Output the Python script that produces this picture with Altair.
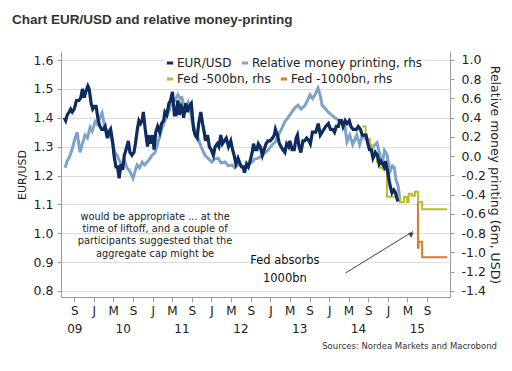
import altair as alt
import pandas as pd

# ---------------- data ----------------
S_EUR = "EUR/USD"
S_RMP = "Relative money printing, rhs"
S_500 = "Fed -500bn, rhs"
S_1000 = "Fed -1000bn, rhs"
main_names = [S_EUR, S_RMP]
main_colors = ["#0d2b5e", "#7fa3c8"]
fed_names = [S_500, S_1000]
fed_colors = ["#b9bc2d", "#d77a29"]

eur_usd = [
    ("2009-07-01", 1.40), ("2009-07-10", 1.39), ("2009-07-20", 1.41), ("2009-08-01", 1.42),
    ("2009-08-10", 1.43), ("2009-08-20", 1.42), ("2009-09-01", 1.43), ("2009-09-15", 1.46),
    ("2009-10-01", 1.46), ("2009-10-12", 1.47), ("2009-10-22", 1.50), ("2009-11-02", 1.47),
    ("2009-11-12", 1.49), ("2009-11-25", 1.51), ("2009-12-03", 1.50), ("2009-12-15", 1.45),
    ("2009-12-25", 1.43), ("2010-01-05", 1.44), ("2010-01-15", 1.44), ("2010-01-28", 1.39),
    ("2010-02-08", 1.37), ("2010-02-18", 1.36), ("2010-03-01", 1.36), ("2010-03-12", 1.37),
    ("2010-03-25", 1.33), ("2010-04-05", 1.35), ("2010-04-15", 1.36), ("2010-04-27", 1.32),
    ("2010-05-06", 1.27), ("2010-05-18", 1.23), ("2010-05-28", 1.23), ("2010-06-07", 1.19),
    ("2010-06-18", 1.24), ("2010-06-29", 1.22), ("2010-07-09", 1.27), ("2010-07-20", 1.29),
    ("2010-08-03", 1.32), ("2010-08-13", 1.28), ("2010-08-25", 1.27), ("2010-09-07", 1.28),
    ("2010-09-16", 1.31), ("2010-09-28", 1.36), ("2010-10-08", 1.39), ("2010-10-18", 1.38),
    ("2010-10-28", 1.39), ("2010-11-04", 1.42), ("2010-11-16", 1.36), ("2010-11-30", 1.30),
    ("2010-12-08", 1.34), ("2010-12-20", 1.31), ("2010-12-31", 1.34), ("2011-01-10", 1.29),
    ("2011-01-20", 1.35), ("2011-02-01", 1.37), ("2011-02-14", 1.35), ("2011-02-25", 1.38),
    ("2011-03-10", 1.39), ("2011-03-18", 1.42), ("2011-03-30", 1.41), ("2011-04-12", 1.45),
    ("2011-04-22", 1.46), ("2011-05-04", 1.49), ("2011-05-16", 1.41), ("2011-05-26", 1.41),
    ("2011-06-07", 1.46), ("2011-06-16", 1.41), ("2011-06-28", 1.44), ("2011-07-06", 1.43),
    ("2011-07-12", 1.40), ("2011-07-26", 1.45), ("2011-08-05", 1.42), ("2011-08-16", 1.44),
    ("2011-08-29", 1.45), ("2011-09-12", 1.36), ("2011-09-22", 1.34), ("2011-10-04", 1.33),
    ("2011-10-14", 1.38), ("2011-10-27", 1.42), ("2011-11-07", 1.38), ("2011-11-17", 1.35),
    ("2011-11-25", 1.32), ("2011-12-08", 1.34), ("2011-12-19", 1.30), ("2011-12-30", 1.29),
    ("2012-01-13", 1.27), ("2012-01-24", 1.30), ("2012-02-06", 1.31), ("2012-02-16", 1.30),
    ("2012-02-28", 1.34), ("2012-03-09", 1.31), ("2012-03-21", 1.32), ("2012-04-02", 1.33),
    ("2012-04-16", 1.30), ("2012-04-30", 1.32), ("2012-05-11", 1.29), ("2012-05-21", 1.27),
    ("2012-06-01", 1.24), ("2012-06-14", 1.26), ("2012-06-27", 1.24), ("2012-07-06", 1.23),
    ("2012-07-16", 1.23), ("2012-07-24", 1.21), ("2012-08-06", 1.24), ("2012-08-17", 1.23),
    ("2012-08-28", 1.25), ("2012-09-10", 1.28), ("2012-09-18", 1.31), ("2012-09-28", 1.29),
    ("2012-10-10", 1.29), ("2012-10-18", 1.31), ("2012-10-30", 1.30), ("2012-11-12", 1.27),
    ("2012-11-23", 1.29), ("2012-12-05", 1.31), ("2012-12-17", 1.32), ("2012-12-31", 1.32),
    ("2013-01-14", 1.33), ("2013-01-25", 1.34), ("2013-02-01", 1.36), ("2013-02-14", 1.34),
    ("2013-02-26", 1.31), ("2013-03-08", 1.30), ("2013-03-19", 1.29), ("2013-04-01", 1.28),
    ("2013-04-12", 1.31), ("2013-04-24", 1.30), ("2013-05-02", 1.32), ("2013-05-16", 1.29),
    ("2013-05-29", 1.29), ("2013-06-10", 1.33), ("2013-06-18", 1.34), ("2013-06-28", 1.30),
    ("2013-07-09", 1.28), ("2013-07-22", 1.32), ("2013-08-01", 1.32), ("2013-08-14", 1.33),
    ("2013-08-29", 1.32), ("2013-09-06", 1.31), ("2013-09-19", 1.35), ("2013-09-30", 1.35),
    ("2013-10-10", 1.35), ("2013-10-25", 1.38), ("2013-11-07", 1.34), ("2013-11-18", 1.35),
    ("2013-11-29", 1.36), ("2013-12-10", 1.37), ("2013-12-27", 1.38), ("2014-01-09", 1.36),
    ("2014-01-22", 1.36), ("2014-02-03", 1.35), ("2014-02-14", 1.37), ("2014-02-27", 1.37),
    ("2014-03-07", 1.39), ("2014-03-18", 1.39), ("2014-03-28", 1.37), ("2014-04-10", 1.39),
    ("2014-04-22", 1.38), ("2014-05-06", 1.39), ("2014-05-16", 1.37), ("2014-05-29", 1.36),
    ("2014-06-06", 1.36), ("2014-06-19", 1.36), ("2014-06-30", 1.37), ("2014-07-14", 1.36),
    ("2014-07-25", 1.34), ("2014-08-06", 1.34), ("2014-08-18", 1.34), ("2014-08-29", 1.31),
    ("2014-09-08", 1.29), ("2014-09-19", 1.29), ("2014-09-30", 1.26), ("2014-10-15", 1.28),
    ("2014-10-28", 1.27), ("2014-11-07", 1.24), ("2014-11-18", 1.25), ("2014-11-28", 1.24),
    ("2014-12-08", 1.23), ("2014-12-16", 1.25), ("2014-12-31", 1.21), ("2015-01-09", 1.18),
    ("2015-01-16", 1.16), ("2015-01-26", 1.14), ("2015-02-06", 1.15), ("2015-02-17", 1.14),
    ("2015-02-26", 1.12), ("2015-03-04", 1.11),
]

money_printing = [
    ("2009-07-06", -0.12), ("2009-07-20", -0.05), ("2009-08-07", 0.01), ("2009-08-20", 0.08),
    ("2009-09-07", 0.19), ("2009-09-19", 0.25), ("2009-10-07", 0.04), ("2009-10-20", 0.12),
    ("2009-11-07", 0.22), ("2009-11-22", 0.19), ("2009-12-09", 0.30), ("2009-12-22", 0.26),
    ("2010-01-09", 0.36), ("2010-01-25", 0.33), ("2010-02-09", 0.41), ("2010-02-21", 0.45),
    ("2010-03-10", 0.30), ("2010-03-25", 0.27), ("2010-04-10", 0.22), ("2010-04-25", 0.15),
    ("2010-05-12", 0.04), ("2010-05-28", 0.00), ("2010-06-12", -0.06), ("2010-06-28", -0.08),
    ("2010-07-12", -0.05), ("2010-07-25", -0.12), ("2010-08-10", -0.15), ("2010-09-01", -0.23),
    ("2010-09-15", -0.15), ("2010-09-26", -0.09), ("2010-10-12", -0.12), ("2010-10-28", -0.06),
    ("2010-11-12", -0.09), ("2010-11-28", -0.06), ("2010-12-12", -0.03), ("2010-12-28", 0.01),
    ("2011-01-16", 0.04), ("2011-02-04", 0.15), ("2011-02-28", 0.29), ("2011-03-15", 0.36),
    ("2011-04-01", 0.43), ("2011-04-15", 0.48), ("2011-05-01", 0.60), ("2011-05-20", 0.58),
    ("2011-06-07", 0.64), ("2011-06-20", 0.60), ("2011-07-01", 0.61), ("2011-07-19", 0.50),
    ("2011-08-09", 0.56), ("2011-08-25", 0.45), ("2011-09-03", 0.36), ("2011-09-20", 0.28),
    ("2011-10-10", 0.19), ("2011-10-28", 0.10), ("2011-11-22", 0.01), ("2011-12-10", -0.02),
    ("2012-01-04", -0.06), ("2012-01-20", -0.03), ("2012-02-12", -0.02), ("2012-03-01", -0.07),
    ("2012-03-25", -0.06), ("2012-04-15", -0.10), ("2012-05-07", -0.09), ("2012-05-25", -0.12),
    ("2012-06-13", -0.09), ("2012-07-01", -0.10), ("2012-07-28", -0.12), ("2012-08-15", -0.08),
    ("2012-09-10", -0.06), ("2012-09-25", -0.03), ("2012-10-16", -0.02), ("2012-11-05", 0.00),
    ("2012-12-01", 0.04), ("2012-12-20", 0.07), ("2013-01-13", 0.12), ("2013-02-01", 0.15),
    ("2013-02-19", 0.22), ("2013-03-10", 0.28), ("2013-04-01", 0.36), ("2013-04-20", 0.40),
    ("2013-05-15", 0.46), ("2013-06-01", 0.50), ("2013-06-21", 0.53), ("2013-07-10", 0.49),
    ("2013-08-04", 0.53), ("2013-08-20", 0.58), ("2013-09-04", 0.64), ("2013-09-20", 0.60),
    ("2013-10-06", 0.64), ("2013-10-24", 0.71), ("2013-11-08", 0.62), ("2013-11-18", 0.53),
    ("2013-12-05", 0.50), ("2013-12-25", 0.46), ("2014-01-15", 0.43), ("2014-02-06", 0.40),
    ("2014-02-25", 0.38), ("2014-03-21", 0.36), ("2014-04-10", 0.30), ("2014-04-21", 0.15),
    ("2014-05-09", 0.22), ("2014-05-27", 0.12), ("2014-06-21", 0.22), ("2014-07-09", 0.12),
    ("2014-07-27", 0.22), ("2014-09-01", 0.15), ("2014-09-25", 0.09), ("2014-10-25", 0.14),
    ("2014-11-25", -0.09), ("2014-12-10", 0.06), ("2014-12-25", 0.02), ("2015-01-13", -0.16),
    ("2015-01-28", -0.10), ("2015-02-10", -0.12), ("2015-02-20", -0.25), ("2015-03-04", -0.30),
    ("2015-03-16", -0.45),
]

fed_500 = [
    ("2014-07-26", 0.31), ("2014-08-15", 0.18), ("2014-09-10", 0.10), ("2014-09-26", 0.06),
    ("2014-10-12", 0.00), ("2014-10-24", -0.06), ("2014-11-10", -0.12), ("2014-12-01", -0.14),
    ("2014-12-26", -0.42), ("2015-03-15", -0.475), ("2015-04-10", -0.42), ("2015-04-28", -0.475),
    ("2015-05-10", -0.39), ("2015-05-29", -0.41), ("2015-06-17", -0.37), ("2015-07-06", -0.475),
    ("2015-08-01", -0.55), ("2016-01-03", -0.55),
]

fed_1000 = [
    ("2015-07-05", -0.475), ("2015-07-06", -0.95), ("2015-07-10", -0.89),
    ("2015-08-01", -1.05), ("2016-01-03", -1.05),
]

left_ticks = [0.8, 0.9, 1.0, 1.1, 1.2, 1.3, 1.4, 1.5, 1.6]
right_ticks = [-1.4, -1.2, -1.0, -0.8, -0.6, -0.4, -0.2, 0.0, 0.2, 0.4, 0.6, 0.8, 1.0]
year_labels = ["09", "10", "11", "12", "13", "14", "15"]
year_label_dates = ["2009-09-05", "2010-07-02", "2011-07-02", "2012-07-02",
                    "2013-07-02", "2014-07-02", "2015-07-02"]

title_text = "Chart EUR/USD and relative money-printing"
source_text = "Sources: Nordea Markets and Macrobond"
note_lines = ["would be appropriate ... at the", "time of liftoff, and a couple of",
              "participants suggested that the", "aggregate cap might be"]
fed_lines = ["Fed absorbs", "1000bn"]


def frame(pairs, name):
    return pd.DataFrame({"date": [p[0] for p in pairs], "v": [p[1] for p in pairs], "series": name})


df_eur = frame(eur_usd, S_EUR)
df_rmp = frame(money_printing, S_RMP)
df_500 = frame(fed_500, S_500)
df_1000 = frame(fed_1000, S_1000)

W, H = 389, 245
FONT = "DejaVu Sans"

# ---------------- scales / encodings ----------------
x_ticks = [alt.DateTime(year=y, month=m, date=1, utc=True)
           for y in range(2009, 2016) for m in (1, 5, 9)
           if (y, m) >= (2009, 9) and (y, m) <= (2015, 9)]
xscale = alt.Scale(type="utc",
                   domain=[alt.DateTime(year=2009, month=6, date=11, utc=True),
                           alt.DateTime(year=2016, month=1, date=21, utc=True)])
xaxis = alt.Axis(values=x_ticks, labelExpr="substring(utcFormat(datum.value, '%b'), 0, 1)",
                 title=None, grid=False, tickSize=5, labelPadding=3, labelFontSize=12,
                 labelOverlap=False, labelFlush=False)
X = alt.X("date:T", scale=xscale, axis=xaxis)

yL = alt.Y("v:Q", scale=alt.Scale(domain=[0.779, 1.628], nice=False, zero=False),
           axis=alt.Axis(orient="left", values=left_ticks, format=".1f", title="EUR/USD",
                         grid=True, titleFontSize=11, titlePadding=6, titleFontWeight="normal"))
yR = alt.Y("v:Q", scale=alt.Scale(domain=[-1.463, 1.083], nice=False, zero=False),
           axis=alt.Axis(orient="right", values=right_ticks, grid=False,
                         labelExpr="replace(format(datum.value, '.1f'), '\u2212', '-')",
                         labelPadding=7, title="Relative money printing (6m, USD)",
                         titleFontSize=12.5, titlePadding=2, titleFontWeight="normal"))

legend_style = dict(orient="none", direction="horizontal", title=None, symbolType="stroke",
                    symbolStrokeWidth=3, symbolSize=40, labelFont=FONT, labelFontSize=12,
                    labelColor="#222", labelLimit=400, columnPadding=3, labelOffset=1,
                    fillColor="white", padding=0)

color = alt.Color("series:N", scale=alt.Scale(domain=main_names, range=main_colors),
                  legend=alt.Legend(legendX=103, legendY=5, **legend_style))
stroke = alt.Stroke("series:N", scale=alt.Scale(domain=fed_names, range=fed_colors),
                    legend=alt.Legend(legendX=103, legendY=21, **legend_style))

# ---------------- right-hand layers ----------------
rmp_line = alt.Chart(df_rmp).mark_line(strokeWidth=3).encode(x=X, y=yR, color=color)
f1000_line = alt.Chart(df_1000).mark_line(strokeWidth=2, interpolate="step-after").encode(x=X, y=yR, stroke=stroke)
f500_line = alt.Chart(df_500).mark_line(strokeWidth=2, interpolate="step-after").encode(x=X, y=yR, stroke=stroke)
rhs = alt.layer(rmp_line, f1000_line, f500_line)

# ---------------- left-hand layers ----------------
eur_line = alt.Chart(df_eur).mark_line(strokeWidth=3.2).encode(x=X, y=yL, color=color)

note_df = pd.DataFrame({"date": ["2011-01-16"], "v": [1.074]})
note = alt.Chart(note_df).mark_text(text=note_lines, font=FONT, fontSize=9.8, lineHeight=12.3,
                                    baseline="top", align="center", color="#222").encode(x=X, y=yL)
fed_df = pd.DataFrame({"date": ["2013-04-01"], "v": [0.925]})
fed_note = alt.Chart(fed_df).mark_text(text=fed_lines, font=FONT, fontSize=11.5, lineHeight=18,
                                       baseline="top", align="center", color="#111").encode(x=X, y=yL)

arrow_df = pd.DataFrame({"date": ["2014-04-12"], "v": [0.862], "date2": ["2015-06-05"], "v2": [1.006]})
arrow = alt.Chart(arrow_df).mark_rule(color="#444", strokeWidth=1).encode(
    x=X, y=yL, x2="date2:T", y2="v2:Q")
head_df = pd.DataFrame({"date": ["2015-05-28"], "v": [0.997]})
head = alt.Chart(head_df).mark_point(shape="triangle-up", angle=58, filled=True, size=30,
                                     color="#444", opacity=1).encode(x=X, y=yL)

years_df = pd.DataFrame({"date": year_label_dates, "label": year_labels})
years = alt.Chart(years_df).mark_text(font=FONT, fontSize=12, color="#222", baseline="middle").encode(
    x=X, y=alt.value(H + 32), text="label:N")

one = pd.DataFrame({"k": [0]})
title = alt.Chart(one).mark_text(text=title_text, font="Liberation Sans", fontSize=13.5,
                                 fontWeight="bold", color="#333", align="left", baseline="middle").encode(
    x=alt.value(-49), y=alt.value(-32))
source = alt.Chart(one).mark_text(text=source_text, font=FONT, fontSize=8.5, color="#333",
                                  align="right", baseline="middle").encode(
    x=alt.value(W + 47), y=alt.value(H + 49))

lhs = alt.layer(eur_line, note, fed_note, arrow, head, years, title, source)

chart = alt.layer(rhs, lhs).resolve_scale(y="independent").properties(
    width=W, height=H,
    padding={"left": 53, "top": 44, "right": 52, "bottom": 60},
    autosize=alt.AutoSizeParams(type="none"),
).configure_view(stroke=None).configure_axis(
    labelFont=FONT, labelFontSize=12.5, labelColor="#222", titleFont=FONT, titleColor="#222",
    domainColor="#9a9a9a", tickColor="#9a9a9a", tickSize=4, labelPadding=4, gridColor="#dcdcdc",
)

chart.save("out.html", embed_options={"renderer": "svg", "actions": False})
